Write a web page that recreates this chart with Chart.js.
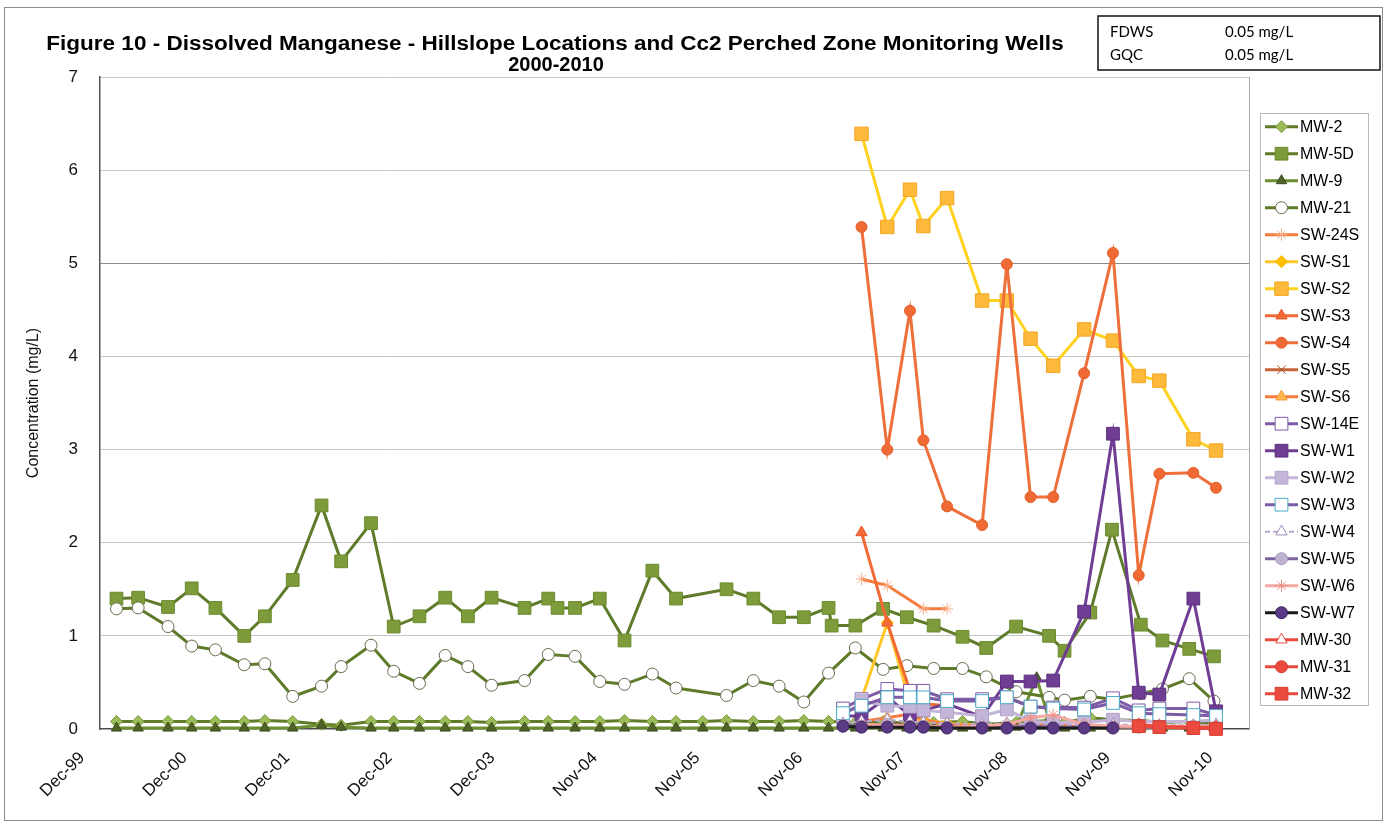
<!DOCTYPE html>
<html>
<head>
<meta charset="utf-8">
<title>Figure 10 - Dissolved Manganese</title>
<script src="https://cdn.jsdelivr.net/npm/chart.js@4.4.1/dist/chart.umd.min.js"></script>
<style>
    html, body { margin: 0; padding: 0; background: #fff; }
    #wrap { width: 1387px; height: 826px; }
</style>
</head>
<body>
<div id="wrap"><canvas id="myChart" width="1387" height="826"></canvas></div>
<script>
// date axis: Excel style labels, roughly one per year
var tickLabels = ['Dec-99', 'Dec-00', 'Dec-01', 'Dec-02', 'Dec-03', 'Nov-04',
    'Nov-05', 'Nov-06', 'Nov-07', 'Nov-08', 'Nov-09', 'Nov-10'];
var axisStart = 1999.95;   // Dec-99
var lastTick = 2010.90;    // Nov-10
var axisEnd = 2011.10;

// sampling dates (decimal years) of the MW wells
var mwDates = [2000.11, 2000.32, 2000.61, 2000.84, 2001.07, 2001.35, 2001.55, 2001.82, 2002.10, 2002.29,
    2002.58, 2002.80, 2003.05, 2003.30, 2003.52, 2003.75, 2004.07, 2004.30, 2004.39, 2004.56,
    2004.80, 2005.04, 2005.31, 2005.54, 2005.80, 2006.03, 2006.29, 2006.54, 2006.78, 2007.02,
    2007.05, 2007.28, 2007.55, 2007.78, 2008.04, 2008.32, 2008.55, 2008.84, 2009.04, 2009.16,
    2009.31, 2009.56, 2009.77, 2010.05, 2010.26, 2010.52, 2010.76];

// sampling dates of the hillslope (SW) locations and new wells
var swDates = [2007.16, 2007.34, 2007.59, 2007.81, 2007.94, 2008.17, 2008.51, 2008.75,
    2008.98, 2009.20, 2009.50, 2009.78, 2010.03, 2010.23, 2010.56, 2010.78];

// concentrations, mg/L (null = not sampled)
var mw2 = [0.08, 0.08, 0.08, 0.08, 0.08, 0.08, 0.09, 0.08, 0.05, 0.04,
    0.08, 0.08, 0.08, 0.08, 0.08, 0.07, 0.08, 0.08, null, 0.08,
    0.08, 0.09, 0.08, 0.08, 0.08, 0.09, 0.08, 0.08, 0.09, 0.08,
    null, 0.07, 0.08, 0.06, 0.07, 0.08, 0.05, 0.07, null, 0.09,
    0.07, 0.12, 0.10, 0.09, 0.07, 0.08, 0.05];
var mw5D = [1.40, 1.41, 1.31, 1.51, 1.30, 1.00, 1.21, 1.60, 2.40, 1.80,
    2.21, 1.10, 1.21, 1.41, 1.21, 1.41, 1.30, 1.40, 1.30, 1.30,
    1.40, 0.95, 1.70, 1.40, null, 1.50, 1.40, 1.20, 1.20, 1.30,
    1.11, 1.11, 1.29, 1.20, 1.11, 0.99, 0.87, 1.10, null, 1.00,
    0.84, 1.25, 2.14, 1.12, 0.95, 0.86, 0.78];
var mw9 = [0.01, 0.01, 0.01, 0.01, 0.01, 0.01, 0.01, 0.01, 0.04, 0.02,
    0.01, 0.01, 0.01, 0.01, 0.01, 0.01, 0.01, 0.01, null, 0.01,
    0.01, 0.01, 0.01, 0.01, 0.01, 0.01, 0.01, 0.01, 0.01, 0.01,
    null, 0.01, 0.01, 0.01, 0.01, 0.01, 0.01, 0.02, 0.55, 0.10,
    0.01, 0.01, 0.01, 0.01, 0.01, 0.01, 0.01];
var mw21 = [1.29, 1.30, 1.10, 0.89, 0.85, 0.69, 0.70, 0.35, 0.46, 0.67,
    0.90, 0.62, 0.49, 0.79, 0.67, 0.47, 0.52, 0.80, null, 0.78,
    0.51, 0.48, 0.59, 0.44, null, 0.36, 0.52, 0.46, 0.29, 0.60,
    null, 0.87, 0.64, 0.68, 0.65, 0.65, 0.56, 0.40, null, 0.34,
    0.31, 0.35, 0.32, 0.38, 0.43, 0.54, 0.30];

var sw24S = [null, 1.61, 1.54, null, 1.29, 1.29, null, null, null, null, null, null, null, null, null, null];
var swS1 = [null, 0.32, 1.14, 0.28, 0.10, 0.06, 0.04, null, null, null, null, null, null, null, null, null];
var swS2 = [null, 6.39, 5.39, 5.79, 5.40, 5.70, 4.60, 4.60, 4.19, 3.90, 4.29, 4.17, 3.79, 3.74, 3.11, 2.99];
var swS3 = [null, 2.11, 1.14, 0.41, 0.27, 0.25, null, null, null, null, null, null, null, null, null, null];
var swS4 = [null, 5.39, 3.00, 4.49, 3.10, 2.39, 2.19, 4.99, 2.49, 2.49, 3.82, 5.11, 1.65, 2.74, 2.75, 2.59];
var swS5 = [null, 0.04, 0.05, 0.04, 0.03, 0.03, 0.02, 0.02, 0.02, 0.02, 0.02, 0.02, 0.02, 0.02, 0.02, 0.02];
var swS6 = [null, 0.08, 0.12, 0.16, 0.10, 0.05, 0.03, 0.03, 0.04, 0.05, 0.02, 0.03, 0.02, 0.02, 0.02, 0.02];
var sw14E = [0.22, 0.32, 0.43, 0.41, 0.41, 0.32, 0.32, 0.34, 0.24, 0.23, 0.23, 0.33, 0.20, 0.22, 0.22, 0.15];
var swW1 = [0.14, 0.14, 0.34, 0.15, 0.20, 0.27, 0.13, 0.51, 0.51, 0.52, 1.26, 3.17, 0.39, 0.37, 1.40, 0.19];
var swW2 = [0.14, 0.30, 0.25, 0.24, 0.20, 0.18, 0.14, 0.21, 0.08, 0.07, 0.07, 0.10, 0.08, 0.08, 0.08, 0.10];
var swW3 = [0.17, 0.25, 0.34, 0.34, 0.34, 0.30, 0.30, 0.34, 0.24, 0.22, 0.21, 0.28, 0.17, 0.16, 0.15, 0.14];
var swW4 = [0.06, 0.08, 0.10, 0.08, 0.07, 0.06, 0.05, 0.06, 0.05, 0.05, 0.04, 0.05, 0.04, 0.04, 0.04, 0.05];
var swW5 = [0.04, 0.03, 0.05, 0.03, 0.03, 0.02, 0.02, 0.02, 0.03, 0.02, 0.02, 0.02, 0.02, 0.02, 0.03, 0.02];
var swW6 = [null, 0.05, 0.04, 0.03, 0.03, 0.02, 0.03, 0.05, 0.12, 0.15, 0.05, 0.03, 0.03, 0.03, 0.03, 0.03];
var swW7 = [0.03, 0.02, 0.02, 0.02, 0.02, 0.01, 0.01, 0.01, 0.01, 0.01, 0.01, 0.01, null, null, null, null];
var mw30 = [null, null, null, null, null, null, null, null, null, null, null, null, 0.05, 0.03, 0.02, 0.02];
var mw31 = [null, null, null, null, null, null, null, null, null, null, null, null, 0.04, 0.02, 0.01, 0.01];
var mw32 = [null, null, null, null, null, null, null, null, null, null, null, null, 0.03, 0.02, 0.01, 0.00];

// series look (legend order)
var series = [
    { label: 'MW-2', dates: mwDates, values: mw2, color: '#5E7B2A', width: 3, point: 'rectRot', radius: 6, fill: '#9BBB59', edge: '#7A9A3A' },
    { label: 'MW-5D', dates: mwDates, values: mw5D, color: '#5E7B2A', width: 3, point: 'rect', radius: 9, fill: '#7E9B3B', edge: '#6B8A2E' },
    { label: 'MW-9', dates: mwDates, values: mw9, color: '#6E8F30', width: 3, point: 'triangle', radius: 6, fill: '#4F6228', edge: '#3E4F1E' },
    { label: 'MW-21', dates: mwDates, values: mw21, color: '#5E7B2A', width: 3, point: 'circle', radius: 6, fill: '#ffffff', edge: '#6a6a50' },
    { label: 'SW-24S', dates: swDates, values: sw24S, color: '#F47B3C', width: 3, point: 'star', radius: 6, fill: '#F47B3C', edge: '#F9B08A' },
    { label: 'SW-S1', dates: swDates, values: swS1, color: '#FFC727', width: 3, point: 'rectRot', radius: 6, fill: '#FFC000', edge: '#F5B300' },
    { label: 'SW-S2', dates: swDates, values: swS2, color: '#FFD21F', width: 3, point: 'rect', radius: 9.5, fill: '#FDB93A', edge: '#F5A623' },
    { label: 'SW-S3', dates: swDates, values: swS3, color: '#F26A36', width: 3, point: 'triangle', radius: 6.5, fill: '#F26A36', edge: '#E85A28' },
    { label: 'SW-S4', dates: swDates, values: swS4, color: '#EF6F3A', width: 3, point: 'circle', radius: 5.5, fill: '#EF6A34', edge: '#E45E2A' },
    { label: 'SW-S5', dates: swDates, values: swS5, color: '#C8643A', width: 3, point: 'crossRot', radius: 6, fill: '#C8643A', edge: '#A0522D' },
    { label: 'SW-S6', dates: swDates, values: swS6, color: '#F47B3C', width: 3, point: 'triangle', radius: 6.5, fill: '#FFB84D', edge: '#F59A3A' },
    { label: 'SW-14E', dates: swDates, values: sw14E, color: '#7D5BA6', width: 3, point: 'rect', radius: 9, fill: '#ffffff', edge: '#7D5BA6' },
    { label: 'SW-W1', dates: swDates, values: swW1, color: '#6F3E94', width: 3, point: 'rect', radius: 9, fill: '#6F3E94', edge: '#5A2F7E' },
    { label: 'SW-W2', dates: swDates, values: swW2, color: '#C3B6D8', width: 3, point: 'rect', radius: 9, fill: '#C3B6D8', edge: '#B2A3CC' },
    { label: 'SW-W3', dates: swDates, values: swW3, color: '#7D5BA6', width: 3, point: 'rect', radius: 9, fill: '#ffffff', edge: '#4BACC6' },
    { label: 'SW-W4', dates: swDates, values: swW4, color: '#B8A8CF', width: 2, dash: [5, 3], point: 'triangle', radius: 6.5, fill: '#ffffff', edge: '#9E8DBA' },
    { label: 'SW-W5', dates: swDates, values: swW5, color: '#8064A2', width: 3, point: 'circle', radius: 6, fill: '#BFB3CF', edge: '#A899BE' },
    { label: 'SW-W6', dates: swDates, values: swW6, color: '#F4A9A2', width: 3, point: 'star', radius: 6, fill: '#F4A9A2', edge: '#F08F86' },
    { label: 'SW-W7', dates: swDates, values: swW7, color: '#1A1A1A', width: 3, point: 'circle', radius: 6, fill: '#5B3A85', edge: '#3C2460' },
    { label: 'MW-30', dates: swDates, values: mw30, color: '#EA4B3E', width: 3, point: 'triangle', radius: 6.5, fill: '#ffffff', edge: '#EA4B3E' },
    { label: 'MW-31', dates: swDates, values: mw31, color: '#EA4B3E', width: 3, point: 'circle', radius: 6, fill: '#EA4B3E', edge: '#D93C30' },
    { label: 'MW-32', dates: swDates, values: mw32, color: '#EA4B3E', width: 3, point: 'rect', radius: 9, fill: '#EA4B3E', edge: '#D93C30' }
];

var datasets = series.map(function (s, i) {
    return {
        label: s.label,
        data: s.dates.map(function (d, j) {
            return { x: d, y: s.values[j] };
        }).filter(function (p) {
            return p.y !== null;
        }),
        borderColor: s.color,
        borderWidth: s.width,
        borderDash: s.dash || [],
        pointStyle: s.point,
        pointRadius: s.radius,
        pointBackgroundColor: s.fill,
        pointBorderColor: s.edge,
        pointBorderWidth: 1,
        tension: 0,
        fill: false,
        clip: false,
        order: -i   // later series on top, like Excel
    };
});

var FONT = '"Liberation Sans", Arial, sans-serif';

function drawMarker(ctx, ds, x, y) {
    ctx.fillStyle = ds.pointBackgroundColor;
    ctx.strokeStyle = ds.pointBorderColor;
    ctx.lineWidth = ds.pointBorderWidth;
    if (Chart.helpers && Chart.helpers.drawPoint) {
        Chart.helpers.drawPoint(ctx, {
            pointStyle: ds.pointStyle,
            radius: ds.pointRadius,
            rotation: 0,
            borderWidth: ds.pointBorderWidth
        }, x, y);
    } else {
        ctx.beginPath();
        ctx.arc(x, y, ds.pointRadius * 0.7, 0, Math.PI * 2);
        ctx.fill();
        ctx.stroke();
    }
}

// title, limit box, frame and legend drawn around the chart
var decor = {
    id: 'decor',
    beforeDraw: function (chart) {
        var ctx = chart.ctx;
        ctx.save();
        ctx.fillStyle = '#ffffff';
        ctx.fillRect(0, 0, chart.width, chart.height);
        ctx.strokeStyle = '#8c8c8c';
        ctx.lineWidth = 1;
        ctx.strokeRect(4.5, 7.5, 1378, 813);
        ctx.restore();
    },
    beforeDatasetsDraw: function (chart) {
        var a = chart.chartArea, ctx = chart.ctx;
        ctx.save();
        ctx.strokeStyle = '#a8a8a8';
        ctx.lineWidth = 1;
        ctx.beginPath();
        ctx.moveTo(a.right + 0.5, a.top);
        ctx.lineTo(a.right + 0.5, a.bottom);
        ctx.stroke();
        ctx.restore();
    },
    afterDraw: function (chart) {
        var ctx = chart.ctx;
        ctx.save();

        // title (first line is set a bit wide, as in the original)
        ctx.fillStyle = '#000';
        ctx.textAlign = 'center';
        ctx.textBaseline = 'middle';
        ctx.font = 'bold 20px ' + FONT;
        ctx.save();
        ctx.translate(555, 44);
        ctx.scale(1.125, 1);
        ctx.fillText('Figure 10 - Dissolved Manganese - Hillslope Locations and Cc2 Perched Zone Monitoring Wells', 0, 0);
        ctx.restore();
        ctx.fillText('2000-2010', 556, 65);

        // limits box
        ctx.fillStyle = '#fff';
        ctx.fillRect(1098, 16, 282, 54);
        ctx.strokeStyle = '#111';
        ctx.lineWidth = 1.5;
        ctx.strokeRect(1098, 16, 282, 54);
        ctx.fillStyle = '#000';
        ctx.textAlign = 'left';
        ctx.font = '15px Lato, "Open Sans", sans-serif';
        ctx.fillText('FDWS', 1110, 32);
        ctx.fillText('0.05 mg/L', 1225, 32);
        ctx.fillText('GQC', 1110, 55);
        ctx.fillText('0.05 mg/L', 1225, 55);

        // legend
        ctx.strokeStyle = '#b8b8b8';
        ctx.lineWidth = 1;
        ctx.strokeRect(1260.5, 113.5, 108, 592);
        ctx.font = '16px ' + FONT;
        chart.data.datasets.forEach(function (ds, i) {
            var y = 126.7 + i * 27.0;
            ctx.save();
            ctx.strokeStyle = ds.borderColor;
            ctx.lineWidth = ds.borderWidth;
            ctx.setLineDash(ds.borderDash || []);
            ctx.beginPath();
            ctx.moveTo(1265, y);
            ctx.lineTo(1298, y);
            ctx.stroke();
            ctx.setLineDash([]);
            drawMarker(ctx, ds, 1281.5, y);
            ctx.restore();
            ctx.fillStyle = '#000';
            ctx.fillText(ds.label, 1300, y + 1);
        });
        ctx.restore();
    }
};

Chart.defaults.font.family = FONT;
Chart.defaults.color = '#000';

var ctx = document.getElementById('myChart').getContext('2d');
var myChart = new Chart(ctx, {
    type: 'line',
    data: { datasets: datasets },
    plugins: [decor],
    options: {
        responsive: false,
        animation: false,
        devicePixelRatio: 1,
        layout: { padding: { left: 0, right: 138, top: 77, bottom: 0 } },
        plugins: {
            legend: { display: false },
            tooltip: { enabled: false },
            title: { display: false }
        },
        scales: {
            x: {
                type: 'linear',
                min: axisStart,
                max: axisEnd,
                afterBuildTicks: function (scale) {
                    var step = (lastTick - axisStart) / (tickLabels.length - 1);
                    scale.ticks = tickLabels.map(function (l, i) {
                        return { value: axisStart + i * step };
                    });
                },
                afterFit: function (scale) {
                    scale.height = 97;
                    scale.paddingLeft = 0;
                    scale.paddingRight = 0;
                },
                ticks: {
                    autoSkip: false,
                    maxRotation: 45,
                    minRotation: 45,
                    padding: 19,
                    labelOffset: -18,
                    font: { size: 17 },
                    color: '#111',
                    callback: function (value, index) {
                        return tickLabels[index];
                    }
                },
                grid: { display: false, drawTicks: false },
                border: { display: true, color: '#4a4a4a', width: 1.5 }
            },
            y: {
                min: 0,
                max: 7,
                afterFit: function (scale) {
                    scale.width = 100;
                },
                ticks: {
                    stepSize: 1,
                    padding: 22,
                    font: { size: 17 },
                    color: '#111'
                },
                grid: {
                    drawTicks: false,
                    lineWidth: 1,
                    color: function (c) {
                        if (c.tick.value === 0) return 'rgba(0,0,0,0)';
                        if (c.tick.value === 5) return '#8a8a8a';
                        return '#c6c6c6';
                    }
                },
                border: { color: '#555', width: 1.5 },
                title: {
                    display: true,
                    text: 'Concentration (mg/L)',
                    font: { size: 16 },
                    color: '#111',
                    padding: { top: 24, bottom: 0 }
                }
            }
        }
    }
});
</script>
</body>
</html>
